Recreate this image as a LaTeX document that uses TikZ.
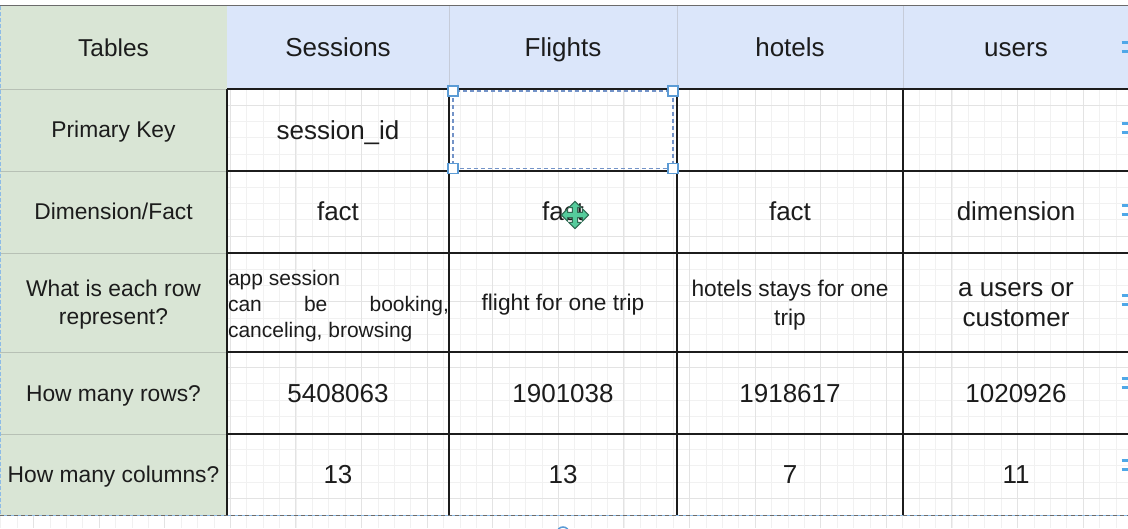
\documentclass[tikz,border=0pt]{standalone}
\usepackage{fontspec}
\setmainfont{Liberation Sans}
\definecolor{ink}{HTML}{1C1C1C}
\definecolor{gridminor}{HTML}{F1F1F1}
\definecolor{gridmajor}{HTML}{E3E3E3}
\definecolor{greenfill}{HTML}{D9E5D5}
\definecolor{bluefill}{HTML}{DBE6FA}
\definecolor{sepgray}{HTML}{B7C0B5}
\definecolor{hdrsep}{HTML}{C6CCD9}
\definecolor{topline}{HTML}{6B6B6B}
\definecolor{handleblue}{HTML}{5B9BD5}
\definecolor{selblue}{HTML}{7393C8}
\definecolor{eqblue}{HTML}{4FA8E8}
\definecolor{edgeblue}{HTML}{8DBBE6}
\definecolor{movegreen}{HTML}{55CC9C}
\definecolor{moveedge}{HTML}{2E6A52}
\newcommand{\mystrutx}{\rule{0pt}{0.73em}}
\begin{document}
\begin{tikzpicture}[x=1pt,y=-1pt,
  minorgrid/.style={draw=gridminor, line width=0.8pt},
  majorgrid/.style={draw=gridmajor, line width=1pt},
  cellline/.style={draw=ink, line width=1.6pt},
  sepline/.style={draw=sepgray, line width=1pt},
  hdrline/.style={draw=hdrsep, line width=1pt},
  txt/.style={inner sep=0pt, text=ink, text depth=0pt, align=center, execute at begin node=\mystrutx},
  hdrtxt/.style={txt, font=\fontsize{26}{30}\selectfont},
  lbltxt/.style={txt, font=\fontsize{22.8}{28}\selectfont},
  dattxt/.style={txt, font=\fontsize{26}{30}\selectfont},
  smalltxt/.style={txt, font=\fontsize{22.7}{29.5}\selectfont},
  handle/.style={draw=handleblue, fill=white, line width=1.4pt, minimum size=10pt, inner sep=0pt, rectangle},
  selbox/.style={draw=selblue, line width=1.2pt, dash pattern=on 4pt off 3pt},
  eqbar/.style={draw=eqblue, line width=2.8pt},
]
\useasboundingbox (0,0) rectangle (1128,528);
\fill[white] (0,0) rectangle (1128,528);
% background grid
\foreach \i in {0,...,69} { \draw[minorgrid] ({0.7+16.4*\i},0) -- ({0.7+16.4*\i},528); }
\foreach \j in {0,...,32} { \draw[minorgrid] (0,{6.6+16.4*\j}) -- (1128,{6.6+16.4*\j}); }
\foreach \i in {0,...,17} { \draw[majorgrid] ({33.5+65.6*\i},0) -- ({33.5+65.6*\i},528); }
\foreach \j in {0,...,7} { \draw[majorgrid] (0,{39.4+65.6*\j}) -- (1128,{39.4+65.6*\j}); }
\fill[white] (0,0) rectangle (1128,5);
% fills
\fill[bluefill] (227,6) rectangle (1128,89);
\fill[greenfill] (0,6) rectangle (227,515);
% header separators
\foreach \x in {449,677,903} { \draw[hdrline] (\x,6) -- (\x,89); }
% left column separators
\foreach \y in {89,171,253,352,434} { \draw[sepline] (0,\y) -- (227,\y); }
% black cell lines
\foreach \y in {89,171,253,352,434} { \draw[cellline] (227,\y) -- (1128,\y); }
\foreach \x in {227,449,677,903} { \draw[cellline] (\x,89) -- (\x,515); }
% top line, left edge, bottom edge
\draw[topline, line width=1.6pt] (0,5.5) -- (1128,5.5);
\draw[edgeblue, line width=1.2pt, dash pattern=on 4pt off 2pt] (0.8,6) -- (0.8,515);
\draw[edgeblue, line width=1.6pt] (0,515.5) -- (1128,515.5);
\draw[draw=topline, line width=1.2pt, dash pattern=on 4pt off 3pt] (0,515.5) -- (1128,515.5);
% header texts
\node[txt, font=\fontsize{24.4}{28}\selectfont] (tTables) at (113.5,47.5) {Tables};
\node[hdrtxt] (tSessions) at (338,47.5) {Sessions};
\node[hdrtxt] (tFlights) at (563,47.5) {Flights};
\node[hdrtxt] (tHotels) at (790,47.5) {hotels};
\node[hdrtxt] (tUsers) at (1016,47.5) {users};
% row labels
\node[lbltxt] (lPK) at (113.5,129.5) {Primary Key};
\node[lbltxt] (lDF) at (113.5,211) {Dimension/Fact};
\node[lbltxt] (lWhat) at (113.5,302.5) {What is each row\\represent?};
\node[lbltxt] (lRows) at (113.5,393) {How many rows?};
\node[lbltxt] (lCols) at (113.5,474.5) {How many columns?};
% primary key row
\node[dattxt] (pkSessions) at (338,130) {session\_id};
% dimension/fact row
\node[dattxt] (dfSessions) at (338,211) {fact};
\node[dattxt] (dfFlights) at (563,211) {fact};
\node[dattxt] (dfHotels) at (790,211) {fact};
\node[dattxt] (dfUsers) at (1016,211) {dimension};
% what row
\node[txt, align=left, font=\fontsize{21}{26}\selectfont] (wSessions) at (338.5,303.5)
  {app session\\\hbox to 221pt{can\hfill be\hfill booking,}\\canceling, browsing};
\node[smalltxt] (wFlights) at (563,302.5) {flight for one trip};
\node[smalltxt] (wHotels) at (790,303) {hotels stays for one\\trip};
\node[dattxt] (wUsers) at (1016,304.5) {a users or\\customer};
% rows
\node[dattxt] (rSessions) at (338,393) {5408063};
\node[dattxt] (rFlights) at (563,393) {1901038};
\node[dattxt] (rHotels) at (790,393) {1918617};
\node[dattxt] (rUsers) at (1016,393) {1020926};
% columns
\node[dattxt] (cSessions) at (338,474.5) {13};
\node[dattxt] (cFlights) at (563,474.5) {13};
\node[dattxt] (cHotels) at (790,474.5) {7};
\node[dattxt] (cUsers) at (1016,474.5) {11};
% selection box on Flights primary key cell
\coordinate (s1) at (453,91);
\coordinate (s2) at (673,168.5);
\draw[selbox] (s1) rectangle (s2);
\node[handle] (h1) at (453,91) {};
\node[handle] (h2) at (673,91) {};
\node[handle] (h3) at (453,168.5) {};
\node[handle] (h4) at (673,168.5) {};
% move cursor
\draw[fill=movegreen, draw=moveedge, line width=1.1pt, line join=round, shift={(575,215)}, scale=1.05]
  (0,-13) -- (6,-7) -- (2.5,-7) -- (2.5,-2.5) -- (7,-2.5) -- (7,-6) -- (13,0) -- (7,6) -- (7,2.5)
  -- (2.5,2.5) -- (2.5,7) -- (6,7) -- (0,13) -- (-6,7) -- (-2.5,7) -- (-2.5,2.5) -- (-7,2.5)
  -- (-7,6) -- (-13,0) -- (-7,-6) -- (-7,-2.5) -- (-2.5,-2.5) -- (-2.5,-7) -- (-6,-7) -- cycle;
% rotation handle peeking at bottom
\draw[handleblue, line width=1.5pt] (563,533) circle (6);
% blue equals marks at right edge
\foreach \y in {47,128,210,300,383,465} {
  \draw[eqbar] (1121.5,\y-4.2) -- (1128,\y-4.2);
  \draw[eqbar] (1121.5,\y+4.2) -- (1128,\y+4.2);
}
\end{tikzpicture}
\end{document}
